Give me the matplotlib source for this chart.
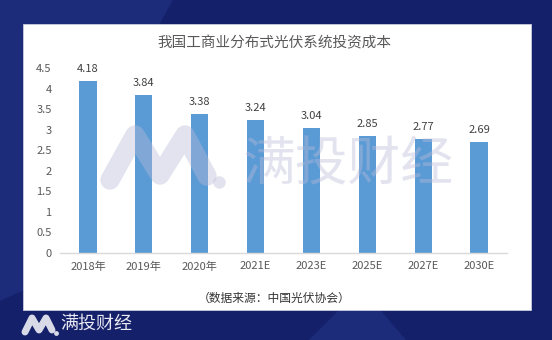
import matplotlib.pyplot as plt
from matplotlib.patches import Polygon, Rectangle
import numpy as np

plt.rcParams['font.family'] = ['Noto Sans CJK SC', 'DejaVu Sans']

years = ['2018年', '2019年', '2020年', '2021E', '2023E', '2025E', '2027E', '2030E']
cost = [4.18, 3.84, 3.38, 3.24, 3.04, 2.85, 2.77, 2.69]
yticks = [0, 0.5, 1, 1.5, 2, 2.5, 3, 3.5, 4, 4.5]
ytick_labels = ['0', '0.5', '1', '1.5', '2', '2.5', '3', '3.5', '4', '4.5']

W, H = 552, 340
fig = plt.figure(figsize=(W / 100, H / 100), dpi=100)

# background layer in pixel coords
bg = fig.add_axes([0, 0, 1, 1], zorder=0)
bg.set_xlim(0, W)
bg.set_ylim(H, 0)
bg.axis('off')
bg.add_patch(Rectangle((0, 0), W, H, color='#15206a'))
bg.add_patch(Polygon([(0, 0), (172, 0), (150, 40), (23, 290), (0, 300)], color='#1d2c7a'))
bg.add_patch(Polygon([(310, 340), (345, 305), (375, 305), (405, 340)], color='#1d2c7a'))
bg.add_patch(Rectangle((23, 24), 508, 286, facecolor='white', edgecolor='#c8cbe0', lw=0.6))

# main chart
ax = fig.add_axes([60 / W, (H - 253) / H, 447 / W, 185 / H], zorder=1)
ax.patch.set_alpha(0)
x = np.arange(len(years))
bars = ax.bar(x, cost, width=0.31, color='#5b9bd5')
for xi, v in zip(x, cost):
    ax.text(xi, v + 0.17, f'{v:.2f}', ha='center', va='bottom', fontsize=8, color='#404040')
ax.set_xlim(-0.5, len(years) - 0.5)
ax.set_ylim(0, 4.5)
ax.set_yticks(yticks)
ax.set_yticklabels(ytick_labels)
ax.set_xticks(x)
ax.set_xticklabels(years)
ax.tick_params(axis='both', length=0, labelsize=8, colors='#595959')
ax.tick_params(axis='y', pad=6)
ax.tick_params(axis='x', pad=6)
for s in ['top', 'right', 'left']:
    ax.spines[s].set_visible(False)
ax.spines['bottom'].set_color('#d9d9d9')
ax.spines['bottom'].set_linewidth(1)

# overlay: titles, watermark, logo
ov = fig.add_axes([0, 0, 1, 1], zorder=2)
ov.set_xlim(0, W)
ov.set_ylim(H, 0)
ov.axis('off')
ov.patch.set_alpha(0)
ov.text(274, 43, '我国工商业分布式光伏系统投资成本', ha='center', va='center',
        fontsize=10.5, color='#595959')
ov.text(274, 298, '（数据来源：中国光伏协会）', ha='center', va='center',
        fontsize=8.5, color='#333333', fontweight='medium')

# watermark
wm = '#b8bbd6'
ov.plot([110, 135, 160, 185, 207], [180, 135, 175, 135, 176], color=wm, alpha=0.4,
        lw=14, solid_capstyle='round', solid_joinstyle='round')
ov.plot([219], [182], 'o', color=wm, alpha=0.4, ms=9, mec='none')
ov.text(243, 165, '满投财经', ha='left', va='center', fontsize=38, color=wm, alpha=0.4)

# logo bottom-left
ov.plot([25, 32, 39, 46, 52], [332, 318, 330, 318, 330], color='#d8dae8',
        lw=5, solid_capstyle='round', solid_joinstyle='round')
ov.plot([56], [333], 'o', color='#d8dae8', ms=3.5, mec='none')
ov.text(60, 324, '满投财经', ha='left', va='center', fontsize=13, color='#e8e9f2')

fig.savefig('out.png', dpi=100)
